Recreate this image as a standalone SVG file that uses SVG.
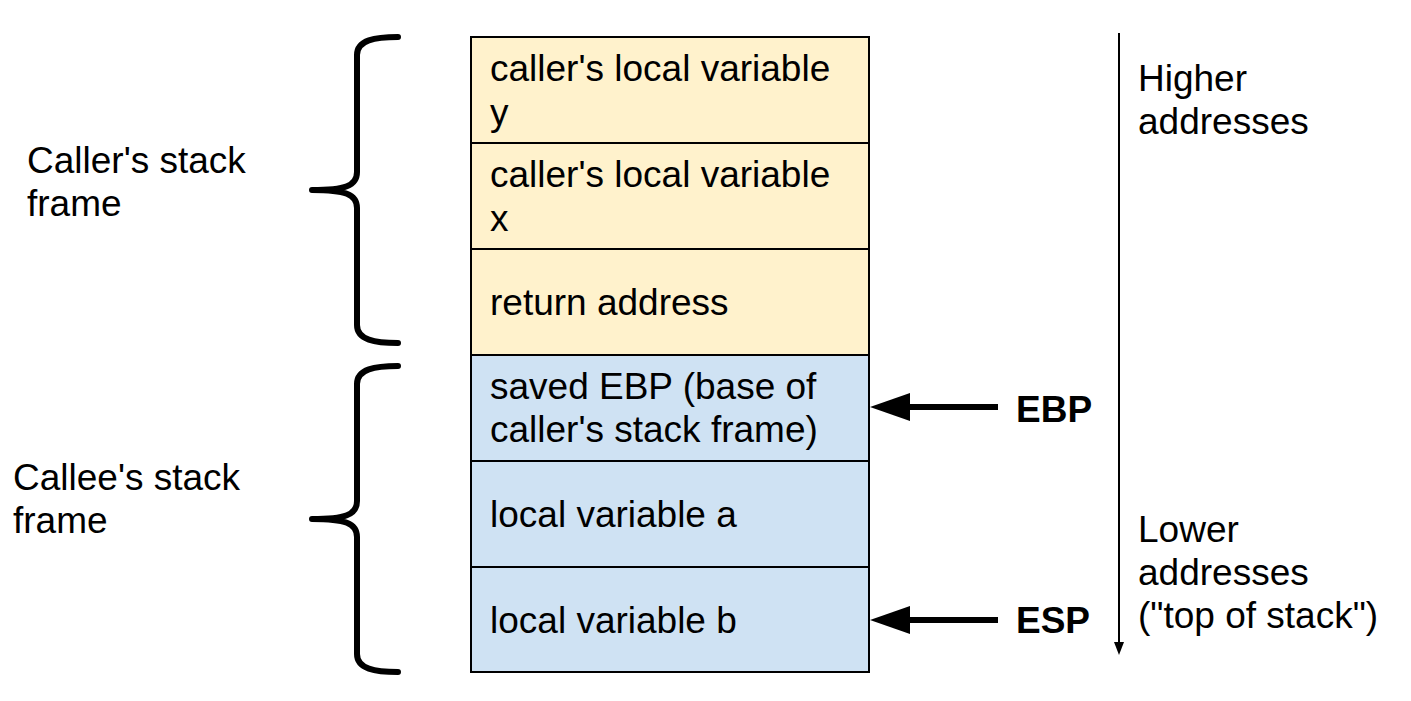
<svg xmlns="http://www.w3.org/2000/svg" width="1411" height="701" viewBox="0 0 1411 701">
<style>
.t{font-family:"Liberation Sans",Arial,sans-serif;font-size:37px;fill:#000}
.b{font-family:"Liberation Sans",Arial,sans-serif;font-size:37px;font-weight:bold;fill:#000}
.y{fill:#fff2cc;stroke:#000;stroke-width:2}
.c{fill:#cfe2f3;stroke:#000;stroke-width:2}
.brace{fill:none;stroke:#000;stroke-width:6;stroke-linecap:round;stroke-linejoin:round}
</style>
<rect width="1411" height="701" fill="#fff"/>
<g id="brace-caller">
<path class="brace" d="M398,37 C375,37 357,40 357,55 L357,172 C357,186 345,190 312,190 C345,190 357,194 357,208 L357,325 C357,340 375,343 398,343"/>
<text class="t" x="27" y="173">Caller's stack</text>
<text class="t" x="27" y="216">frame</text>
</g>
<g id="brace-callee">
<path class="brace" d="M398,366 C375,366 357,369 357,384 L357,501 C357,515 345,519 312,519 C345,519 357,523 357,537 L357,654 C357,669 375,672 398,672"/>
<text class="t" x="13" y="490">Callee's stack</text>
<text class="t" x="13" y="533">frame</text>
</g>
<g id="row1"><rect class="y" x="471" y="37" width="398" height="106"/><text class="t" x="490" y="81">caller's local variable</text><text class="t" x="490" y="125">y</text></g>
<g id="row2"><rect class="y" x="471" y="143" width="398" height="106"/><text class="t" x="490" y="187">caller's local variable</text><text class="t" x="490" y="231">x</text></g>
<g id="row3"><rect class="y" x="471" y="249" width="398" height="106"/><text class="t" x="490" y="315">return address</text></g>
<g id="row4"><rect class="c" x="471" y="355" width="398" height="106"/><text class="t" x="490" y="399">saved EBP (base of</text><text class="t" x="490" y="442">caller's stack frame)</text></g>
<g id="row5"><rect class="c" x="471" y="461" width="398" height="106"/><text class="t" x="490" y="527">local variable a</text></g>
<g id="row6"><rect class="c" x="471" y="567" width="398" height="105"/><text class="t" x="490" y="633">local variable b</text></g>
<g id="ebp"><text class="b" x="1016" y="422">EBP</text></g>
<g id="esp"><text class="b" x="1016" y="633">ESP</text></g>
<g id="labels">
<text class="t" x="1138" y="91">Higher</text>
<text class="t" x="1138" y="134">addresses</text>
<text class="t" x="1138" y="542">Lower</text>
<text class="t" x="1138" y="585">addresses</text>
<text class="t" x="1138" y="628">("top of stack")</text>
</g>
<g id="connectors">
<line x1="998" y1="407" x2="905" y2="407" stroke="#000" stroke-width="6"/>
<polygon points="870,407 910,393 910,421" fill="#000"/>
<line x1="998" y1="620" x2="905" y2="620" stroke="#000" stroke-width="6"/>
<polygon points="870,620 910,606 910,634" fill="#000"/>
<line x1="1119" y1="33" x2="1119" y2="645" stroke="#000" stroke-width="2"/>
<polygon points="1119,655 1114,642 1124,642" fill="#000"/>
</g>
</svg>
